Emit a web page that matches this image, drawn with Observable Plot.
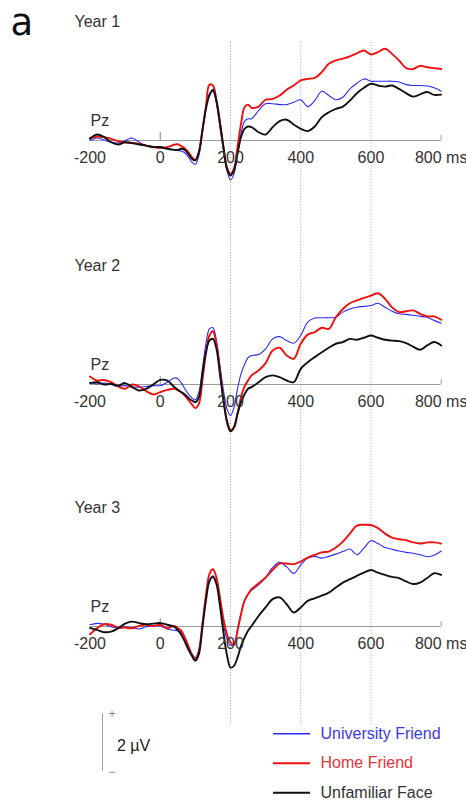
<!DOCTYPE html>
<html>
<head>
<meta charset="utf-8">
<script src="https://cdn.jsdelivr.net/npm/d3@7"></script>
<script src="https://cdn.jsdelivr.net/npm/@observablehq/plot@0.6"></script>
<style>
  html, body { margin: 0; padding: 0; background: #fff; }
  #chart svg { display: block; }
</style>
</head>
<body>
<div id="chart"></div>
<script>
// ---------------- data ----------------
const panelLabel = "a";
const years = ["Year 1", "Year 2", "Year 3"];
const electrode = "Pz";
const conditions = ["University Friend", "Home Friend", "Unfamiliar Face"];
const tickValues = [-200, 0, 200, 400, 600, 800];
const tickLabels = ["-200", "0", "200", "400", "600", "800 ms"];
const gridTimes = [200, 400, 600];
const scaleBarUV = 2;
const scaleBarLabel = "2 µV";

// time points (ms)
const times = [-200,-180,-160,-140,-120,-100,-80,-60,-40,-20,0,20,40,
  50,60,70,80,90,100,110,120,130,140,150,160,170,180,190,200,210,220,230,240,250,260,
  280,300,320,340,360,380,400,420,440,460,480,500,520,540,560,580,600,620,640,660,680,700,720,740,760,780,800];

// amplitudes (µV), Year 1
const y1University = [0,0.09,0.02,-0.06,-0.09,0,0.09,-0.06,-0.18,-0.23,-0.26,-0.29,-0.33,
  -0.35,-0.37,-0.44,-0.58,-0.76,-0.84,-0.53,0.29,1.11,1.64,1.73,1.29,0.47,-0.35,-1.05,-1.38,-1.17,-0.47,0.23,0.67,0.76,0.76,
  1.05,1.29,1.29,1.26,1.26,1.34,1.43,1.19,1.40,1.73,1.58,1.43,1.52,1.81,2.01,2.16,2.08,2.08,2.08,2.08,2.05,1.96,1.93,1.93,1.91,1.85,1.73];
const y1Home = [0.09,0.14,0.12,0.06,-0.02,-0.06,-0.09,-0.12,-0.18,-0.23,-0.26,-0.23,-0.15,
  -0.13,-0.2,-0.28,-0.41,-0.58,-0.68,-0.41,0.35,1.17,1.96,1.93,1.40,0.58,-0.23,-0.94,-1.17,-0.99,-0.23,0.58,1.17,1.26,1.15,
  1.19,1.43,1.46,1.58,1.78,1.93,2.11,2.16,2.20,2.40,2.69,2.81,2.87,2.95,3.06,3.16,3.02,3.10,3.22,3.04,2.81,2.54,2.51,2.62,2.57,2.54,2.51];
const y1Unfamiliar = [0.06,0.21,0.12,-0.06,-0.14,-0.06,-0.09,-0.14,-0.18,-0.23,-0.23,-0.29,-0.33,
  -0.33,-0.29,-0.33,-0.47,-0.64,-0.70,-0.41,0.35,1.11,1.58,1.78,1.40,0.64,-0.23,-1.00,-1.23,-1.05,-0.47,0.12,0.41,0.49,0.47,
  0.29,0.21,0.47,0.68,0.73,0.56,0.41,0.33,0.49,0.82,0.99,1.11,1.19,1.40,1.66,1.85,1.99,1.93,1.89,1.93,1.81,1.66,1.54,1.62,1.70,1.60,1.61];

// Year 2
const y2University = [0.08,0.02,0.05,0,-0.07,-0.04,-0.09,-0.09,-0.07,-0.04,-0.04,0.08,0.23,
  0.20,0.05,-0.15,-0.33,-0.47,-0.54,-0.27,0.55,1.43,1.95,1.99,1.54,0.67,-0.21,-0.85,-1.09,-0.80,-0.15,0.37,0.70,0.94,1.02,
  1.05,1.25,1.60,1.68,1.54,1.45,1.72,2.19,2.33,2.34,2.34,2.36,2.54,2.65,2.71,2.74,2.77,2.85,2.71,2.57,2.48,2.46,2.43,2.39,2.36,2.25,2.15];
const y2Home = [0.28,0.14,0.16,0.08,-0.07,-0.15,0,-0.07,-0.23,-0.35,-0.27,-0.19,-0.15,
  -0.19,-0.27,-0.39,-0.54,-0.70,-0.83,-0.68,0.14,1.08,1.72,1.87,1.43,0.49,-0.50,-1.26,-1.59,-1.50,-1.03,-0.44,-0.07,0.14,0.32,
  0.49,0.75,1.19,1.29,1.02,0.90,1.43,1.75,1.84,1.99,1.95,2.36,2.65,2.85,2.95,3.04,3.12,3.20,3.01,2.71,2.54,2.57,2.60,2.48,2.39,2.39,2.27];
const y2Unfamiliar = [0.05,0.08,0,0.02,-0.04,0.05,-0.09,-0.21,-0.15,0,0.16,0.14,-0.09,
  -0.19,-0.27,-0.35,-0.47,-0.56,-0.62,-0.44,0.37,1.13,1.54,1.60,1.25,0.37,-0.56,-1.32,-1.64,-1.50,-1.03,-0.62,-0.35,-0.15,-0.09,
  0.08,0.26,0.32,0.26,0.14,0.08,0.55,0.78,0.96,1.13,1.29,1.43,1.49,1.60,1.57,1.64,1.72,1.64,1.57,1.54,1.52,1.45,1.33,1.22,1.37,1.49,1.37];

// Year 3
const y3University = [0.06,0.11,0.08,-0.01,-0.04,-0.01,-0.04,-0.09,-0.01,0.02,0.02,-0.09,-0.13,
  -0.15,-0.21,-0.39,-0.68,-0.95,-1.09,-0.83,0.02,0.96,1.63,1.78,1.54,0.84,0.08,-0.44,-0.66,-0.62,-0.09,0.46,0.90,1.13,1.27,
  1.46,1.72,2.07,2.25,2.09,1.86,2.16,2.40,2.46,2.40,2.46,2.54,2.63,2.72,2.52,2.75,3.01,2.91,2.77,2.71,2.65,2.60,2.57,2.52,2.45,2.50,2.65];
const y3Home = [-0.27,-0.06,0.08,0.06,-0.04,-0.04,-0.06,0.02,0.06,0.02,0.06,-0.06,0.02,
  -0.06,-0.15,-0.39,-0.68,-0.99,-1.15,-0.85,0.08,1.08,1.84,2.01,1.72,1.02,0.26,-0.27,-0.55,-0.65,-0.15,0.43,0.90,1.13,1.31,
  1.51,1.72,1.98,2.21,2.21,2.19,2.28,2.42,2.51,2.60,2.63,2.77,2.98,3.26,3.54,3.57,3.56,3.45,3.26,3.12,3.06,3.03,2.95,2.91,2.95,2.95,2.91];
const y3Unfamiliar = [-0.05,-0.12,-0.2,-0.18,-0.06,0.1,0.17,0.12,0.08,0.1,0.12,0.06,-0.01,
  -0.13,-0.29,-0.53,-0.80,-1.03,-1.20,-0.97,-0.04,0.90,1.58,1.74,1.49,0.73,-0.21,-1.00,-1.44,-1.38,-1.09,-0.68,-0.39,-0.15,0.02,
  0.37,0.67,0.96,1.02,0.78,0.49,0.67,0.90,0.99,1.08,1.19,1.37,1.54,1.66,1.78,1.89,1.98,1.89,1.81,1.74,1.70,1.58,1.49,1.54,1.70,1.87,1.81];

const series = [
  [y1University, y1Home, y1Unfamiliar],
  [y2University, y2Home, y2Unfamiliar],
  [y3University, y3Home, y3Unfamiliar]
];

// ---------------- styling / layout ----------------
const colors = ["#2a2aff", "#f01010", "#111111"];
const widths = [1.1, 1.9, 1.9];
const legendText = ["#3b3be6", "#e53535", "#333333"];

const W = 466, H = 805;
const K = 28.5;                 // px per µV
const X0 = 89.5, X1 = 440.7;    // px of -200 and 800 ms
const BASE = [140, 384, 626];   // px of each panel's zero line
const off = BASE.map(b => (b - BASE[0]) / K);
const uy = px => (BASE[0] - px) / K;                       // pixel row -> plot y
const ux = px => -200 + (px - X0) * 1000 / (X1 - X0);      // pixel col -> plot x

const panels = [0, 1, 2];
const rows = [];
panels.forEach(p => conditions.forEach((c, ci) => {
  series[p][ci].forEach((v, i) => rows.push({p, c, ci, t: times[i], v}));
}));
const tickRows = panels.flatMap(p => tickValues.map((t, i) => ({p, t, label: tickLabels[i]})));

const font = "'Liberation Sans', Arial, Helvetica, sans-serif";

const marks = [
  Plot.ruleX(gridTimes, {y1: uy(42), y2: uy(725), stroke: "#b5b5b5", strokeWidth: 1, strokeDasharray: "1.2,1.6"}),
  Plot.ruleY(panels, {y: p => -off[p], x1: -200, x2: 800, stroke: "#9c9c9c", strokeWidth: 1}),
  Plot.ruleX(panels, {x: 0, y1: p => -off[p], y2: p => -off[p] + 8 / K, stroke: "#8a8a8a", strokeWidth: 1}),
  Plot.ruleX(panels, {x: 800, y1: p => -off[p], y2: p => -off[p] + 5 / K, stroke: "#9c9c9c", strokeWidth: 1}),
];
conditions.forEach((c, ci) => {
  marks.push(Plot.line(rows.filter(d => d.ci === ci), {
    x: "t", y: d => d.v - off[d.p], z: "p",
    stroke: colors[ci], strokeWidth: widths[ci], curve: "catmull-rom"
  }));
});
marks.push(
  Plot.text(tickRows, {x: "t", y: d => -off[d.p], text: "label", dy: 22, lineAnchor: "bottom", fill: "#333", fontSize: 16}),
  Plot.text(panels, {x: -200, y: p => -off[p], text: p => years[p], dx: -15.5, dy: -114, textAnchor: "start", lineAnchor: "bottom", fill: "#333", fontSize: 16}),
  Plot.text(panels, {x: -200, y: p => -off[p], text: () => electrode, dx: 0.5, dy: -15, textAnchor: "start", lineAnchor: "bottom", fill: "#333", fontSize: 16}),
  Plot.text([panelLabel], {frameAnchor: "top-left", text: d => d, dx: 10, dy: 34.5, textAnchor: "start", lineAnchor: "bottom", fill: "#111", fontSize: 37, fontFamily: "'DejaVu Sans', sans-serif"}),
  // scale bar
  Plot.ruleX([ux(102)], {y1: uy(770.7), y2: uy(770.7) + scaleBarUV, stroke: "#a0a0a0", strokeWidth: 1}),
  Plot.text(["+"], {x: ux(111.5), y: uy(714), text: d => d, fill: "#888", fontSize: 12, lineAnchor: "middle"}),
  Plot.text(["\u2212"], {x: ux(111.5), y: uy(772), text: d => d, fill: "#888", fontSize: 12, lineAnchor: "middle"}),
  Plot.text([scaleBarLabel], {x: ux(116.5), y: uy(745), text: d => d, textAnchor: "start", lineAnchor: "middle", fill: "#222", fontSize: 16})
);
const legY = [733.3, 762.7, 792.3];
conditions.forEach((c, ci) => {
  marks.push(
    Plot.ruleY([uy(legY[ci])], {x1: ux(273), x2: ux(310), stroke: colors[ci], strokeWidth: ci === 0 ? 1.4 : 1.9}),
    Plot.text([c], {x: ux(320), y: uy(legY[ci]), text: d => d, textAnchor: "start", lineAnchor: "middle", fill: legendText[ci], fontSize: 16})
  );
});

const chart = Plot.plot({
  width: W, height: H,
  marginTop: 0, marginRight: 0, marginBottom: 0, marginLeft: 0,
  x: {domain: [-200, 800], range: [X0, X1], axis: null},
  y: {domain: [uy(H), uy(0)], range: [H, 0], axis: null},
  style: {fontFamily: font, fontSize: "16px", background: "#fff", overflow: "visible"},
  marks
});
document.getElementById("chart").appendChild(chart);
</script>
</body>
</html>
